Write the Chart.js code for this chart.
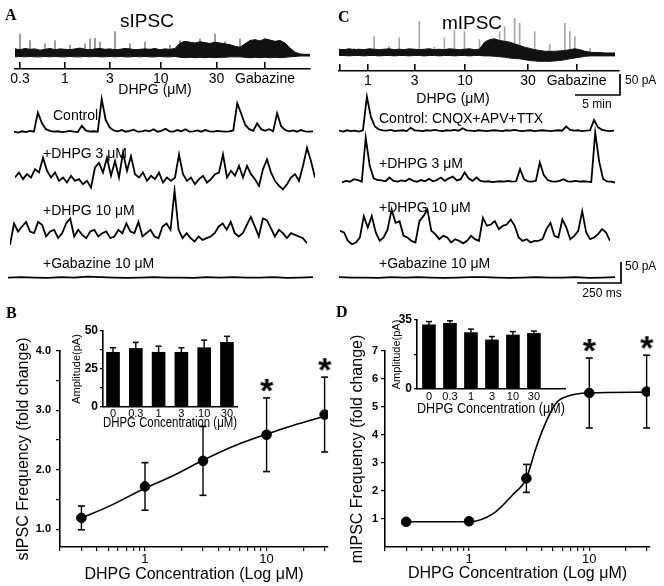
<!DOCTYPE html>
<html><head><meta charset="utf-8">
<script src="https://cdn.jsdelivr.net/npm/chart.js@4/dist/chart.umd.min.js"></script>
<style>
html,body{margin:0;padding:0;background:#fff;}
#fig{position:relative;width:664px;height:586px;background:#fff;overflow:hidden;font-family:"Liberation Sans",Arial,Helvetica,sans-serif;color:#000;}
#fig canvas{position:absolute;}
.t{position:absolute;white-space:nowrap;line-height:1;}
.pl{font-family:"Liberation Serif","Times New Roman",serif;font-weight:bold;}
</style></head><body>
<div id="fig"></div>
<script>
// ================= DATA =================
// Panel A overview (sIPSC, whole recording), pA relative to baseline
const aOverviewTop = [16,14,17,15,16,13,15,17,14,16, 15,14,16,18,15,14,16,17,15,16, 14,15,17,16,14,15,16,15,17,14, 16,15,17,30,34,32,30,33,31,29, 32,30,28,26,22,20,28,36,38,35, 40,37,34,36,30,18,8,4,3,3];
const aOverviewBottom = [-3,-2,-3,-2,-3,-3,-2,-3,-2,-3, -3,-2,-3,-3,-2,-3,-2,-3,-3,-2, -3,-2,-3,-3,-2,-3,-2,-3,-3,-2, -3,-3,-2,-4,-5,-4,-5,-4,-5,-4, -5,-4,-4,-3,-3,-3,-4,-5,-4,-5, -4,-5,-4,-5,-4,-3,-2,-1,-1,-1];
const aOverviewSpikes = [0,51,0,36,0,0,28,0,36,0, 0,25,0,0,28,40,41,32,0,0, 57,0,0,28,0,0,32,0,0,0, 0,25,0,36,0,0,0,40,0,0, 51,0,33,0,0,40,0,0,32,0, 33,0,0,0,28,0,0,0,0,0];
const aApplicationMin = [0.55, 5.55, 10.55, 16.2, 22.4, 27.8];
const aApplicationLabels = ['0.3','1','3','10','30','Gabazine'];
const aRecordMin = 32.8;

// Panel C overview (mIPSC)
const cOverviewTop = [13,12,14,12,13,12,14,13,12,13, 14,12,13,12,14,13,12,13,14,12, 13,12,14,13,12,13,14,12,13, 30,36,38,34,32,30,26,22,18,15, 12,10,8,8,8,9,10,12,14,12, 8,6,5,5,4,4,4];
const cOverviewBottom = [-2,-2,-3,-2,-2,-3,-2,-2,-3,-2, -2,-3,-2,-2,-3,-2,-2,-3,-2,-2, -3,-2,-2,-3,-2,-2,-3,-2,-2, -3,-3,-4,-5,-6,-8,-9,-10,-12,-14, -15,-16,-16,-16,-15,-14,-12,-10,-8,-6, -4,-3,-3,-3,-3,-3,-3];
const cOverviewSpikes = [0,0,0,15,0,0,0,43,0,0, 20,0,40,0,0,0,79,0,0,18, 0,40,0,59,0,55,0,0,36,0, 0,0,55,67,0,87,75,0,0,55, 0,0,25,0,0,75,55,43,0,0, 15,0,0,0,0,0];
const cApplicationMin = [0.1, 3.2, 8.4, 14, 21, 26.4];
const cApplicationLabels = ['','1','3','10','30','Gabazine'];
const cRecordMin = 31.1;

// Expanded traces (pA)
const aTraceControl = [2,0,3,1,4,2, 48,22,8,4, 2,3,1,2,4,2,1, 16,5,2,3,2, 80,30,12,5, 3,6,2,4,7,2,3,5, 3,8,2,4,9,3,2,6,3,8,2,3,5,2,6,3,2,4,3,2,3,5, 70,45,18,8,4,22,8,4,8,3,46,15,6,3,5,2,6,3,2,3];
const aTraceDhpg3 = [12,24,8,20,12,32,24,59,28,12, 24,4,12,0,16,4,8,-4,4,-12, 36,47,24,59,16,51,12,71,28,63, 20,12,24,4,16,8,24,0,12,4, 12,67,20,4,12,-4,8,16,0,8, 20,24,67,12,28,16,40,12,40,20, 8,-8,32,55,24,4,-8,-16,-4,12, 20,4,40,83,51,12];
const aTraceDhpg10 = [-8,43,24,36,47,24,20,47,40,12, 24,28,8,20,43,55,12,28,16,8, 24,28,12,20,24,8,12,28,20,43, 24,20,47,12,20,28,12,8,36,43, 28,122,28,8,20,8,0,12,4,8, 12,20,36,43,28,47,20,12,20,40, 59,36,12,55,51,32,12,28,20,8, 20,16,12,8,-4];
const aTraceGabazine = [0,1,0,-1,1,0,2,1,0,-1,0,1,0,0,-1,1,0,1,0,0,1,-1,0,1];
const cTraceControl = [2,0,3,1,2,0,3, 83,35,12,5,3,2,4,1,2,3,1, 9,3,2,1,3,2,4,2,1,3,2,4,2, 8,3,2,1,3,2,1,2,3,2,1,3,2,4,2,1,2,3,1,2,3,2,1,2,3,2, 12,4,2,3,1,2,3, 28,10,4,2,1,2];
const cTraceDhpg3 = [0,4,2,8,6,2,107,40,10,6, 5,3,12,4,2,5,3,9,4,2, 6,3,9,3,6,12,4,10,14,5, 8,24,10,4,12,4,2,3,1,2, 3,2,4,2,3,32,8,3,2,4, 48,18,6,3,2,4,8,3,2,4, 2,3,2,1,119,50,8,3,2,0];
const cTraceDhpg10 = [28,24,4,-4,0,12,63,36,63,24, 4,12,32,79,47,51,16,12,4,0, 51,63,79,28,20,8,16,12,0,8, 4,-2,4,16,8,4,59,40,43,51, 32,40,43,55,40,12,4,8,0,4, 4,8,32,47,16,12,55,36,8,16, 28,75,24,8,12,20,32,24,4];
const cTraceGabazine = [1,0,0,-1,1,0,1,0,-1,0,1,1,0,-1,0,1,0,0,1,-1,0,1];
const aTraceLabels = ['Control','+DHPG 3 \u03bcM','+DHPG 10 \u03bcM','+Gabazine 10 \u03bcM'];
const cTraceLabels = ['Control: CNQX+APV+TTX','+DHPG 3 \u03bcM','+DHPG 10 \u03bcM','+Gabazine 10 \u03bcM'];

// Scale bars
const scaleBarPA = 50, scaleBarMin = 5, scaleBarMs = 250;

// Panel B / D dose-response
const concentrations = [0.3, 1, 3, 10, 30];
const bFreqMean = [1.19, 1.72, 2.15, 2.59, 2.93];
const bFreqSem  = [0.20, 0.40, 0.58, 0.62, 0.63];
const bFitConc  = [0.3, 0.5, 1, 1.7, 3, 5.4, 10, 16.7, 30];
const bFitFreq  = [1.19, 1.38, 1.69, 1.9, 2.16, 2.4, 2.6, 2.75, 2.9];
const bSignificant = [false, false, false, true, true];
const dFreqMean = [0.90, 0.92, 2.45, 5.50, 5.55];
const dFreqSem  = [0.04, 0.10, 0.50, 1.25, 1.30];
const dFitConc  = [0.3, 1, 1.6, 2.3, 3, 3.55, 4.2, 5.25, 6.8, 10, 30];
const dFitFreq  = [0.9, 0.9, 1.2, 1.86, 2.45, 3.45, 4.3, 5.12, 5.4, 5.5, 5.53];
const dSignificant = [false, false, false, true, true];

// Insets: amplitude
const ampConcLabels = ['0','0.3','1','3','10','30'];
const bAmpMean = [36, 38.5, 36, 36, 39, 42.5];
const bAmpSem  = [3, 4, 4, 3, 5, 4];
const dAmpMean = [32.5, 33.3, 28.6, 24.9, 27.4, 28.2];
const dAmpSem  = [1.7, 1.3, 1.8, 1.7, 1.7, 1.2];

// Tick values
const logTickValues = [0.2,0.3,0.4,0.5,0.6,0.7,0.8,0.9,1,2,3,4,5,6,7,8,9,10,20,30];
const logTickLabelled = [1, 10];
const bFreqTicks = [1,1.5,2,2.5,3,3.5,4];
const dFreqTicks = [1,2,3,4,5,6,7];
const bAmpTicks = [0,12.5,25,37.5,50];
const dAmpTicks = [0,17.5,35];

// ================= SETUP =================
const FONT = '"Liberation Sans", Arial, Helvetica, sans-serif';
Chart.defaults.font.family = FONT;
Chart.defaults.color = '#000';
Chart.defaults.animation = false;
Chart.defaults.responsive = false;
Chart.defaults.events = [];
Chart.defaults.plugins.legend.display = false;
Chart.defaults.plugins.tooltip.enabled = false;

const fig = document.getElementById('fig');
function mkCanvas(left, top, w, h) {
  const c = document.createElement('canvas');
  c.width = w; c.height = h;
  c.style.left = left + 'px'; c.style.top = top + 'px';
  c.style.width = w + 'px'; c.style.height = h + 'px';
  fig.appendChild(c);
  return c.getContext('2d');
}
function addText(txt, x, cy, size, align, cls) {
  const d = document.createElement('div');
  d.className = 't' + (cls ? ' ' + cls : '');
  d.textContent = txt;
  d.style.fontSize = size + 'px';
  d.style.top = (cy - size / 2) + 'px';
  d.style.left = x + 'px';
  if (align === 'center') d.style.transform = 'translateX(-50%)';
  fig.appendChild(d);
}
const setTicks = (vals) => (s) => { s.ticks = vals.map(v => ({ value: v })); };

// ---------- overview recordings ----------
function overviewChart(left, top, w, h, yMin, yMax, topArr, botArr, spikes, spikeColor) {
  const ctx = mkCanvas(left, top, w, h);
  new Chart(ctx, {
    type: 'bar',
    data: { labels: topArr.map((_, i) => i), datasets: [
      { type: 'line', data: topArr, borderColor: '#111', borderWidth: 1, pointRadius: 0, fill: '+1', backgroundColor: '#111', order: 0 },
      { type: 'line', data: botArr, borderColor: '#111', borderWidth: 1, pointRadius: 0, fill: false, order: 1 },
      { type: 'bar', data: spikes.map(v => v || null), backgroundColor: spikeColor, barThickness: 1, order: 2 }
    ]},
    options: { layout: { padding: 0 },
      scales: { x: { display: false, offset: false, grid: { offset: false } }, y: { display: false, min: yMin, max: yMax } } }
  });
}
function timeAxisChart(cv, area, maxMin, tickMin, tickLabels) {
  const ctx = mkCanvas(cv.left, cv.top, cv.w, cv.h);
  new Chart(ctx, {
    type: 'scatter',
    data: { datasets: [{ data: [] }] },
    options: {
      layout: { padding: { left: area.l - cv.left, right: cv.left + cv.w - area.r, top: area.t - cv.top, bottom: 0 } },
      scales: {
        x: { type: 'linear', min: 0, max: maxMin, afterBuildTicks: setTicks(tickMin),
             ticks: { autoSkip: false, maxRotation: 0, font: { size: 14 }, padding: 2, callback: (v, i) => tickLabels[i] },
             grid: { drawOnChartArea: true, drawTicks: false, color: '#000', lineWidth: 1.6 },
             border: { display: true, color: '#000', width: 1.6 },
             afterFit: (s) => { s.height = cv.top + cv.h - area.b; } },
        y: { display: false, min: 0, max: 1 }
      }
    }
  });
}
// ---------- expanded traces ----------
const TRACE_MIN = -25, TRACE_MAX = 135, TRACE_H = 67;
function traceChart(values, left, baseline, w) {
  const top = Math.round(baseline - TRACE_MAX / (TRACE_MAX - TRACE_MIN) * TRACE_H);
  const ctx = mkCanvas(left, top, w, TRACE_H);
  new Chart(ctx, {
    type: 'line',
    data: { labels: values.map((_, i) => i), datasets: [{ data: values, borderColor: '#000', borderWidth: 1.8, pointRadius: 0, tension: 0, clip: false }] },
    options: { layout: { padding: 0 }, scales: { x: { display: false }, y: { display: false, min: TRACE_MIN, max: TRACE_MAX } } }
  });
}
function scaleBarChart(l, t, w, h, xLen, yLen) {
  const pad = 3;
  const ctx = mkCanvas(l - pad, t - pad, w + 2 * pad, h + 2 * pad);
  new Chart(ctx, {
    type: 'scatter',
    data: { datasets: [{ data: [{ x: 0, y: 0 }, { x: xLen, y: 0 }, { x: xLen, y: yLen }], showLine: true, borderColor: '#000', borderWidth: 1.7, pointRadius: 0, clip: false }] },
    options: { layout: { padding: pad }, scales: { x: { display: false, min: 0, max: xLen }, y: { display: false, min: 0, max: yLen } } }
  });
}
// ---------- significance star as point image ----------
function starImage(size, lift) {
  const c = document.createElement('canvas');
  c.width = 40; c.height = 40 + 2 * lift;
  const g = c.getContext('2d');
  g.font = 'bold ' + size + 'px ' + FONT;
  g.textAlign = 'center'; g.textBaseline = 'alphabetic';
  const m = g.measureText('*');
  const cy = c.height / 2 - lift;
  g.fillStyle = '#000';
  g.fillText('*', 20, cy + (m.actualBoundingBoxAscent - m.actualBoundingBoxDescent) / 2);
  return c;
}
const STAR = starImage(34, 13);

function doseChart(o) {
  const ctx = mkCanvas(o.cv.left, o.cv.top, o.cv.w, o.cv.h);
  const ds = [];
  ds.push({ type: 'scatter', data: concentrations.map((c, i) => ({ x: c, y: o.mean[i] })), pointRadius: 4.8, pointBackgroundColor: '#000', pointBorderColor: '#000', order: 0 });
  ds.push({ type: 'scatter', data: concentrations.map((c, i) => o.sig[i] ? { x: c, y: o.mean[i] + o.sem[i] } : null).filter(Boolean), pointStyle: STAR, pointRadius: 10, clip: false, order: 0 });
  ds.push({ type: 'line', data: o.fitX.map((x, i) => ({ x, y: o.fitY[i] })), borderColor: '#000', borderWidth: 1.6, pointRadius: 0, cubicInterpolationMode: 'monotone', fill: false, order: 1 });
  concentrations.forEach((c, i) => ds.push({ type: 'line', data: [{ x: c, y: o.mean[i] - o.sem[i] }, { x: c, y: o.mean[i] + o.sem[i] }],
    borderColor: '#000', borderWidth: 1.4, pointStyle: 'line', pointRadius: 3.5, pointBorderWidth: 1.6, pointBorderColor: '#000', fill: false, clip: false, order: 2 }));
  new Chart(ctx, {
    type: 'scatter',
    data: { datasets: ds },
    options: {
      layout: { padding: { left: 0, top: o.area.t - o.cv.top, right: o.cv.left + o.cv.w - o.area.r, bottom: 0 } },
      scales: {
        x: { type: 'logarithmic', min: 0.2, max: 32, afterBuildTicks: setTicks(logTickValues),
             ticks: { autoSkip: false, maxRotation: 0, minRotation: 0, font: { size: 13 }, padding: 1, callback: v => logTickLabelled.includes(v) ? String(v) : '' },
             grid: { drawOnChartArea: false, drawTicks: true, tickLength: 4, color: '#000', lineWidth: 1.2 },
             border: { color: '#000', width: 1.6 },
             title: { display: true, text: 'DHPG Concentration (Log \u03bcM)', font: { size: 16 }, padding: { top: 0, bottom: o.xTitlePad } },
             afterFit: (s) => { s.height = o.cv.top + o.cv.h - o.area.b; } },
        y: { type: 'linear', min: o.yMin, max: o.yMax, afterBuildTicks: setTicks(o.yTicks),
             ticks: { autoSkip: false, font: { size: 11, weight: 'bold' }, padding: o.yTickPad, callback: o.yFmt },
             grid: { drawOnChartArea: false, drawTicks: true, tickLength: 4, color: '#000', lineWidth: 1.2 },
             border: { color: '#000', width: 1.6 },
             title: { display: true, text: o.yTitle, font: { size: 16 }, padding: { top: o.yTitlePad, bottom: 0 } },
             afterFit: (s) => { s.width = o.area.l - o.cv.left; } }
      }
    }
  });
}
function ampInset(o) {
  const ctx = mkCanvas(o.cv.left, o.cv.top, o.cv.w, o.cv.h);
  const ds = [{ type: 'bar', data: o.mean.map((v, i) => ({ x: i, y: v })), backgroundColor: '#000', barThickness: 13, order: 1 }];
  o.mean.forEach((v, i) => ds.push({ type: 'line', data: [{ x: i, y: v }, { x: i, y: v + o.sem[i] }], borderColor: '#000', borderWidth: 1.4,
    pointStyle: 'line', pointRadius: [0, 3], pointBorderWidth: 1.5, pointBorderColor: '#000', fill: false, clip: false, order: 0 }));
  new Chart(ctx, {
    type: 'bar',
    data: { datasets: ds },
    options: {
      layout: { padding: { left: 0, top: o.area.t - o.cv.top, right: o.cv.left + o.cv.w - o.area.r, bottom: 0 } },
      scales: {
        x: { type: 'linear', offset: false, min: o.xMin, max: o.xMax, afterBuildTicks: setTicks(ampConcLabels.map((_, i) => i)),
             ticks: { autoSkip: false, maxRotation: 0, font: { size: 11 }, padding: o.xTickPad, callback: (v, i) => ampConcLabels[i] },
             grid: { display: true, drawOnChartArea: false, drawTicks: false, offset: false },
             border: { color: '#000', width: 1.6 },
             title: { display: true, text: 'DHPG Concentration (\u03bcM)', font: { size: 15 }, padding: { top: 0, bottom: o.xTitlePad } },
             afterFit: (s) => { s.height = o.cv.top + o.cv.h - o.area.b; } },
        y: { type: 'linear', min: o.yMin, max: o.yMax, afterBuildTicks: setTicks(o.yTicks),
             ticks: { autoSkip: false, font: { size: 12, weight: 'bold' }, padding: 2, callback: o.yFmt },
             grid: { drawOnChartArea: false, drawTicks: true, tickLength: 3, color: '#000', lineWidth: 1.2 },
             border: { color: '#000', width: 1.6 },
             title: { display: true, text: 'Amplitude(pA)', font: { size: 11 }, padding: { top: o.yTitlePad, bottom: 0 } },
             afterFit: (s) => { s.width = o.area.l - o.cv.left; } }
      }
    }
  });
}

// ================= BUILD =================
// Panel A overview
overviewChart(15, 22, 295, 42, -20, 80, aOverviewTop, aOverviewBottom, aOverviewSpikes, '#8a8a8a');
timeAxisChart({ left: 0, top: 60, w: 320, h: 40 }, { l: 15, r: 310, t: 62, b: 69 }, aRecordMin, aApplicationMin, aApplicationLabels);
// Panel C overview
overviewChart(339, 15, 276, 48, -20, 95, cOverviewTop, cOverviewBottom, cOverviewSpikes, '#a8a8a8');
timeAxisChart({ left: 330, top: 62, w: 334, h: 30 }, { l: 339, r: 619, t: 64, b: 71 }, cRecordMin, cApplicationMin, cApplicationLabels);
scaleBarChart(575, 74, 45, 21, scaleBarMin, scaleBarPA);

// Expanded traces
traceChart(aTraceControl, 14, 133, 299);
traceChart(aTraceDhpg3, 15, 183, 300);
traceChart(aTraceDhpg10, 10, 242, 297);
traceChart(aTraceGabazine, 8, 278, 305);
traceChart(cTraceControl, 339, 132, 275);
traceChart(cTraceDhpg3, 342, 183, 273);
traceChart(cTraceDhpg10, 340, 243, 270);
traceChart(cTraceGabazine, 339, 278, 276);
scaleBarChart(577, 262, 44, 21, scaleBarMs, scaleBarPA);

// Panel B
doseChart({ cv: { left: 0, top: 300, w: 340, h: 286 }, area: { l: 60, t: 351, r: 328, b: 547 },
  mean: bFreqMean, sem: bFreqSem, fitX: bFitConc, fitY: bFitFreq, sig: bSignificant,
  yMin: 0.7, yMax: 4.0, yTicks: bFreqTicks, yFmt: v => Number.isInteger(v) ? v.toFixed(1) : '',
  yTitle: 'sIPSC Frequency (fold change)', yTitlePad: 14, yTickPad: 5, xTitlePad: 1.5 });
ampInset({ cv: { left: 60, top: 318, w: 185, h: 115 }, area: { l: 103, t: 331, r: 237, b: 407 },
  mean: bAmpMean, sem: bAmpSem, xMin: -0.44, xMax: 5.44, yMin: 0, yMax: 50, yTicks: bAmpTicks,
  yFmt: v => (v % 25 === 0 ? String(v) : ''), yTitlePad: 10, xTickPad: 0, xTitlePad: 1 });

// Panel D
doseChart({ cv: { left: 332, top: 300, w: 332, h: 286 }, area: { l: 385, t: 351, r: 650, b: 547 },
  mean: dFreqMean, sem: dFreqSem, fitX: dFitConc, fitY: dFitFreq, sig: dSignificant,
  yMin: 0, yMax: 7, yTicks: dFreqTicks, yFmt: v => String(v),
  yTitle: 'mIPSC Frequency (fold change)', yTitlePad: 16, yTickPad: 3, xTitlePad: 2.5 });
ampInset({ cv: { left: 390, top: 308, w: 185, h: 112 }, area: { l: 417, t: 320, r: 565, b: 389 },
  mean: dAmpMean, sem: dAmpSem, xMin: -0.57, xMax: 6.48, yMin: 0, yMax: 35, yTicks: dAmpTicks,
  yFmt: v => (v === 17.5 ? '' : String(v)), yTitlePad: 0, xTickPad: 1, xTitlePad: 2 });

// ================= TEXT =================
addText('A', 5, 15, 16, null, 'pl');
addText('C', 338, 17, 16, null, 'pl');
addText('B', 6, 313, 16, null, 'pl');
addText('D', 336, 312, 16, null, 'pl');
addText('sIPSC', 147, 20, 19, 'center');
addText('mIPSC', 472, 22, 19, 'center');
addText('DHPG (\u03bcM)', 155, 89, 14, 'center');
addText('DHPG (\u03bcM)', 453, 98, 14, 'center');
addText('50 pA', 625, 80, 12);
addText('5 min', 597, 104, 12, 'center');
addText('50 pA', 625, 266, 12);
addText('250 ms', 602, 293, 12, 'center');
addText(aTraceLabels[0], 53, 115, 14);
addText(aTraceLabels[1], 43, 153, 14);
addText(aTraceLabels[2], 43, 210, 14);
addText(aTraceLabels[3], 43, 263, 14);
addText(cTraceLabels[0], 379, 118, 14);
addText(cTraceLabels[1], 379, 163, 14);
addText(cTraceLabels[2], 379, 207, 14);
addText(cTraceLabels[3], 379, 263, 14);
</script>
</body></html>
